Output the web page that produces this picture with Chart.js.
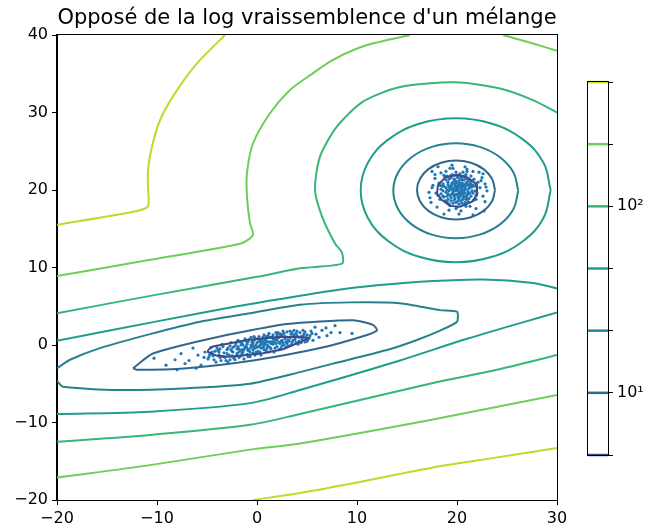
<!DOCTYPE html>
<html>
<head>
<meta charset="utf-8">
<title>Mélange gaussien</title>
<script src="https://cdn.jsdelivr.net/npm/chart.js@4.4.0/dist/chart.umd.min.js"></script>
<style>
  body { margin: 0; background: #fff; }
  #wrap { position: relative; width: 652px; height: 530px; }
  #mainChart { position: absolute; left: 0; top: 0; }
  #cbarChart { position: absolute; left: 560px; top: 0; }
</style>
</head>
<body>
<div id="wrap">
  <canvas id="mainChart" width="652" height="530"></canvas>
  <canvas id="cbarChart" width="92" height="530"></canvas>
</div>
<script>
// contour levels (logspace 10^(2/3) .. 10^(8/3)) and tick values
const levels = [4.6416, 10, 21.544, 46.416, 100, 215.44, 464.16];
const xTicks = [-20, -10, 0, 10, 20, 30];
const yTicks = [-20, -10, 0, 10, 20, 30, 40];
const cbarTicks = [10, 100];
const cbarLabels = ['10\u00b9', '10\u00b2'];

// contour paths, [x, y] in data units, grouped by level
const lvl4Ring = [[18.1,20.65],[18.8,21.6],[20.0,21.95],[21.1,21.6],[22.0,20.65],[22.0,19.35],[21.5,18.5],[20.3,17.85],[19.3,17.95],[18.5,18.7],[18.0,19.55],[18.1,20.65]];
const lvl4Band = [[-4.9,-0.65],[-4.4,-0.2],[-1.0,0.65],[2.3,1.07],[4.6,1.0],[5.1,0.86],[4.0,0.2],[2.6,-0.55],[0.6,-1.07],[-2.7,-1.5],[-4.0,-1.4],[-4.9,-0.9],[-4.9,-0.65]];

const lvl10Ring = [[23.8,20.0],[23.5,21.45],[22.66,22.69],[21.39,23.51],[19.9,23.8],[18.41,23.51],[17.14,22.69],[16.3,21.45],[16.0,20.0],[16.3,18.55],[17.14,17.31],[18.41,16.49],[19.9,16.2],[21.39,16.49],[22.66,17.31],[23.5,18.55],[23.8,20.0]];
const lvl10Band = [[-12.4,-3.0],[-10.4,-1.1],[-3.7,1.1],[3.0,2.7],[9.6,3.2],[11.6,2.6],[12.0,1.9],[11.0,1.3],[6.3,-0.4],[-0.4,-2.0],[-7.0,-3.0],[-12.0,-3.2],[-12.4,-3.0]];

const lvl21Ring = [[26.13,19.9],[25.65,22.25],[24.3,24.23],[22.27,25.56],[19.88,26.03],[17.49,25.56],[15.46,24.23],[14.11,22.25],[13.63,19.9],[14.11,17.55],[15.46,15.57],[17.49,14.24],[19.88,13.77],[22.27,14.24],[24.3,15.57],[25.65,17.55],[26.13,19.9]];
const lvl21Band = [[-20,-4.6],[-19.4,-5.4],[-14.0,-5.8],[-7.4,-5.6],[-0.7,-5.0],[4.3,-3.5],[7.6,-2.4],[13.0,-0.65],[16.0,0.65],[18.3,1.85],[20.0,3.0],[20.0,4.3],[18.3,4.5],[14.3,5.4],[9.3,5.5],[4.3,5.2],[-0.7,4.1],[-5.7,3.0],[-10.7,1.4],[-15.7,-0.4],[-18.7,-1.9],[-20,-3.0]];

const lvl46Ring = [[29.37,19.96],[28.65,23.52],[26.59,26.53],[23.51,28.54],[19.87,29.25],[16.23,28.54],[13.15,26.53],[11.09,23.52],[10.37,19.96],[11.09,16.4],[13.15,13.39],[16.23,11.38],[19.87,10.67],[23.51,11.38],[26.59,13.39],[28.65,16.4],[29.37,19.96]];
const lvl46Upper = [[-20,0.55],[-10,3.05],[-2,5.0],[4,6.3],[8,7.1],[12,7.7],[17.6,8.25],[22.6,8.45],[27.6,8.0],[30,7.3]];
const lvl46Lower = [[-20,-8.9],[-10.7,-8.6],[-0.7,-7.5],[4.3,-5.8],[14.3,-2.0],[21,0.8],[30,4.2]];

const lvl100Upper = [[-20,4.1],[-10,6.5],[0,8.8],[4.3,9.9],[8.5,10.5],[8.5,11.9],[7.8,13.1],[6.5,16.6],[5.8,20.0],[6.3,24.3],[8.0,28.2],[10.6,31.4],[14.3,33.3],[19.8,33.9],[24.3,33.1],[27.6,31.6],[30,30.0]];
const lvl100Lower = [[-20,-12.5],[-10.7,-11.6],[-0.7,-10.3],[4.3,-8.9],[17.6,-4.9],[24,-3.2],[30,-1.3]];

const lvl215Top = [[-20,8.9],[-10.7,11.0],[-1.6,13.1],[-0.4,14.2],[-0.7,15.7],[-1.0,19.1],[-1.0,22.2],[-0.4,26.0],[1.3,29.9],[3.3,32.9],[5.3,34.8],[7.6,36.8],[11.0,38.7],[15.3,40]];
const lvl215Corner = [[24.6,40],[27.6,38.9],[30,37.97]];
const lvl215Lower = [[-20,-17.1],[-10.7,-15.5],[-0.7,-13.5],[4.3,-12.7],[17.6,-9.6],[30,-6.45]];

const lvl464Top = [[-20,15.5],[-12.0,17.3],[-10.9,17.9],[-10.9,20.4],[-10.9,22.6],[-10.5,25.6],[-9.7,29.0],[-8.2,32.5],[-6.0,36.35],[-3.2,40]];
const lvl464Lower = [[-0.4,-20],[4.3,-19.1],[10,-17.75],[17.6,-15.8],[24,-14.5],[30,-13.3]];

// training samples: round cluster near (20, 20) and the stretched one near the origin
const roundSamples = [
  [20.1,20.3],[19.6,19.8],[20.5,20.9],[19.2,20.4],[20.8,19.6],[19.9,21.1],[20.3,19.2],[18.9,19.7],[21.2,20.2],[19.5,20.7],
  [20.6,20.4],[19.8,19.4],[20.2,18.9],[21.0,21.0],[19.1,21.0],[20.4,21.5],[18.7,20.5],[21.5,19.9],[20.0,20.0],[19.7,18.7],
  [20.9,18.8],[21.4,20.8],[18.6,19.2],[19.4,21.6],[20.7,21.8],[21.8,20.5],[18.4,20.1],[20.3,22.1],[19.0,18.5],[21.1,18.5],
  [22.0,19.6],[19.9,22.3],[18.2,20.9],[20.5,18.3],[21.7,21.4],[18.8,21.7],[22.3,20.3],[19.3,18.0],[20.9,22.0],[17.9,19.6],
  [20.0,17.8],[21.9,18.8],[18.3,18.8],[22.4,21.2],[19.6,22.8],[17.6,20.6],[21.3,17.9],[20.1,19.5],[19.4,20.1],[20.7,20.0],
  [20.2,20.7],[19.8,20.5],[20.4,19.8],[19.3,19.3],[21.0,19.3],[19.7,21.4],[20.8,20.6],[19.0,20.0],[20.6,19.0],[21.3,21.1],
  [22.6,19.2],[17.8,21.5],[21.6,22.4],[18.4,22.2],[22.8,20.8],[20.4,17.3],[19.2,17.4],[23.0,19.9],[17.3,19.0],[21.9,17.6],
  [18.0,17.8],[22.2,22.3],[19.5,23.2],[17.5,20.3],[20.8,23.0],[22.5,21.6],[17.5,22.4],[20.2,16.9],[21.6,16.8],[18.7,16.9],
  [22.8,18.5],[17.4,18.4],[22.7,17.3],[22.9,20.4],[17.8,22.0],[19.3,22.8],[21.0,22.7],[17.2,19.7],[22.6,22.1],[18.1,23.0],
  [19.9,19.9],[20.3,20.5],[19.6,20.2],[20.1,19.1],[19.4,19.0],[20.9,20.1],[20.5,21.3],[19.1,20.7],[21.5,20.4],[20.0,21.7],
  [19.8,20.8],[20.6,19.5],[19.5,19.5],[20.4,20.2],[19.2,19.9],[20.9,20.9],[20.0,20.5],[19.7,20.0],[20.3,19.6],[19.6,21.0],
  [21.1,19.8],[18.9,20.3],[20.2,21.2],[19.4,20.5],[20.7,19.2],[20.1,18.6],[21.4,20.4],[18.6,19.9],[19.1,19.5],[20.5,20.6],
  [18.5,20.5],[18.7,19.1],[18.9,21.3],[19.0,19.2],[19.1,18.8],[19.2,21.4],[19.3,20.2],[19.3,21.8],[19.4,18.6],[19.5,20.9],
  [19.6,18.3],[19.6,19.6],[19.7,21.9],[19.7,19.2],[19.8,18.9],[19.8,21.3],[19.9,20.3],[19.9,18.4],[20.0,19.4],[20.0,20.9],
  [20.1,21.6],[20.1,20.1],[20.2,19.8],[20.2,18.2],[20.3,20.9],[20.3,21.9],[20.4,18.6],[20.4,19.4],[20.5,20.0],[20.5,21.7],
  [20.6,18.8],[20.6,20.8],[20.7,21.3],[20.7,19.7],[20.8,18.4],[20.8,20.3],[20.9,19.1],[20.9,21.5],[21.0,20.6],[21.0,18.9],
  [21.1,19.5],[21.1,21.3],[21.2,20.7],[21.2,18.9],[21.3,19.6],[21.3,20.5],[21.4,19.2],[21.5,21.2],[21.6,19.6],[21.6,20.6],
  [21.7,18.7],[21.8,19.9],[21.9,20.9],[18.4,19.5],[18.6,20.8],[18.8,18.6],[18.3,20.6],[19.0,21.8],[19.5,22.0],[20.6,22.3],
  [21.4,21.8],[21.9,19.3],[18.7,21.9],[19.2,18.2],[20.9,17.9],[19.9,17.6],[18.1,19.3],[22.1,21.0],[21.0,22.4],[18.9,22.4]
];
const stretchedSamples = [
  [-10.3,-1.7],[-8.2,-1.9],[-8.0,-3.2],[-7.2,-2.4],[-6.4,-0.4],[-6.8,-2.0],[-5.9,-1.3],[-5.6,-2.6],[-5.2,-0.9],[-4.9,-1.8],
  [-4.6,-0.3],[-4.4,-1.4],[-4.1,-2.2],[-3.9,-0.7],[-3.7,-1.6],[-3.5,0.1],[-3.3,-1.0],[-3.1,-2.0],[-2.9,-0.4],[-2.8,-1.3],
  [-2.6,0.3],[-2.5,-0.8],[-2.3,-1.7],[-2.2,-0.1],[-2.0,-1.1],[-1.9,0.6],[-1.8,-0.5],[-1.6,-1.4],[-1.5,0.2],[-1.4,-0.9],
  [-1.2,0.8],[-1.1,-0.2],[-1.0,-1.2],[-0.9,0.4],[-0.8,-0.6],[-0.6,1.0],[-0.5,-0.1],[-0.4,-1.0],[-0.3,0.6],[-0.2,-0.4],
  [0.0,0.3],[0.1,-0.8],[0.2,1.1],[0.3,0.0],[0.4,-1.3],[0.5,0.7],[0.6,-0.3],[0.7,1.3],[0.8,0.2],[0.9,-0.7],
  [1.0,0.9],[1.1,-0.1],[1.2,1.5],[1.3,0.4],[1.4,-0.5],[1.5,1.0],[1.6,0.1],[1.7,-0.9],[1.8,0.7],[1.9,1.6],
  [2.0,-0.2],[2.1,0.9],[2.2,0.3],[2.3,1.4],[2.4,-0.4],[2.5,0.6],[2.6,1.8],[2.7,0.0],[2.8,1.1],[2.9,0.4],
  [3.0,1.7],[3.1,-0.1],[3.3,0.9],[3.4,1.4],[3.5,0.3],[3.7,1.9],[3.8,0.7],[4.0,1.2],[4.1,0.1],[4.3,1.6],
  [4.5,0.8],[4.6,1.9],[4.8,0.4],[5.0,1.3],[5.2,0.9],[5.4,1.8],[5.6,0.6],[5.9,1.4],[6.2,1.0],[6.5,1.9],
  [6.9,2.2],[7.0,1.2],[7.4,1.6],[8.3,1.6],[9.5,1.5],[-7.6,-1.1],[-9.1,-2.6],[-6.1,-3.0],[5.8,2.3],[7.8,2.5],
  [-3.0,-0.6],[-2.7,-1.9],[-2.4,-0.3],[-2.1,-1.4],[-1.7,-0.8],[-1.3,-1.8],[-1.0,0.1],[-0.7,-1.5],[-0.4,0.2],[-0.1,-0.9],
  [0.2,0.5],[0.4,-0.4],[0.6,0.4],[0.9,0.5],[1.1,1.2],[1.3,-0.3],[1.6,0.8],[1.9,0.2],[2.2,1.0],[2.5,-0.1],
  [2.8,0.8],[3.2,0.5],[3.6,1.1],[3.9,1.5],[4.2,0.5],[4.4,1.1],[4.7,1.4],[5.1,0.7],[-0.2,0.9],[0.0,-0.3],
  [-0.6,0.0],[-1.5,-0.6],[-2.0,-0.5],[-3.4,-1.5],[-3.8,-0.9],[-4.2,-0.8],[-4.7,-1.2],[-5.3,-1.6],[1.5,0.4],[0.7,-0.1],
  [-0.9,-0.7],[-1.9,-1.0],[2.0,1.3],[3.0,0.2],[3.5,1.6],[0.3,0.6],[1.0,0.0],[-0.3,-0.2],[-1.2,-0.3],[2.4,0.5],
  [-4.8,-1.5],[-4.5,-0.9],[-4.3,-1.9],[-4.0,-0.4],[-3.8,-1.3],[-3.6,-2.0],[-3.4,-0.2],[-3.2,-1.6],[-3.0,-1.1],[-2.9,-2.2],
  [-2.7,-0.1],[-2.5,-1.4],[-2.4,-0.9],[-2.2,-1.9],[-2.1,0.2],[-1.9,-0.2],[-1.8,-1.6],[-1.7,0.4],[-1.5,-1.1],[-1.4,0.0],
  [-1.3,-0.6],[-1.1,0.5],[-1.0,-0.4],[-0.9,-1.5],[-0.8,0.7],[-0.7,-0.9],[-0.5,0.4],[-0.4,-0.6],[-0.3,1.1],[-0.1,0.0],
  [0.0,-1.1],[0.1,0.8],[0.2,-0.2],[0.3,-0.9],[0.5,0.1],[0.6,1.0],[0.7,-0.6],[0.8,0.7],[1.0,-0.4],[1.1,0.4],
  [1.2,-0.9],[1.3,1.0],[1.4,0.2],[1.6,1.3],[1.7,0.4],[1.8,-0.4],[2.0,0.6],[2.1,1.6],[2.2,-0.6],[2.3,0.2],
  [2.5,1.2],[2.6,0.3],[2.7,1.5],[2.9,-0.3],[3.0,1.0],[3.1,0.6],[3.3,1.8],[3.4,0.0],[3.6,0.6],[3.7,1.3],
  [3.9,0.3],[4.0,1.8],[4.2,1.0],[4.4,0.3],[4.6,1.2],[4.8,1.7],[5.0,0.5],[5.3,1.2],[5.5,1.5],[0.4,0.3],
  [-0.6,-0.3],[1.9,0.9],[-2.6,-0.6],[3.8,1.0],[-3.7,-0.5],[2.4,1.4],[-1.6,0.0],[0.9,1.1],[-0.2,-1.3],[4.9,1.0]
];

// viridis colours for the levels above (LogNorm 1..1000)
const levelColors = ['#3e4989', '#31688e', '#26828e', '#1f9e89', '#35b779', '#6ece58', '#b5de2b'];

// path, level index, smoothing
const contourPaths = [
  [lvl4Ring, 0, 0], [lvl4Band, 0, 0],
  [lvl10Ring, 1, 0.4], [lvl10Band, 1, 0.2],
  [lvl21Ring, 2, 0.4], [lvl21Band, 2, 0.2],
  [lvl46Ring, 3, 0.4], [lvl46Upper, 3, 0.3], [lvl46Lower, 3, 0.3],
  [lvl100Upper, 4, 0.25], [lvl100Lower, 4, 0.3],
  [lvl215Top, 5, 0.25], [lvl215Corner, 5, 0.3], [lvl215Lower, 5, 0.3],
  [lvl464Top, 6, 0.25], [lvl464Lower, 6, 0.3]
];

const FONT = 'DejaVu Sans';
const TICK_SIZE = 16;
const toXY = pts => pts.map(p => ({ x: p[0], y: p[1] }));
const minus = v => (v < 0 ? '\u2212' + Math.abs(v) : String(v));

// matplotlib draws all four spines; chart.js only left/bottom
const boxFrame = {
  id: 'boxFrame',
  afterDraw(chart) {
    const a = chart.chartArea, ctx = chart.ctx;
    ctx.save();
    ctx.strokeStyle = '#000';
    ctx.lineWidth = 1;
    ctx.strokeRect(Math.round(a.left) - 0.5, Math.round(a.top) - 0.5,
                   Math.round(a.right - a.left) + 1, Math.round(a.bottom - a.top) + 1);
    ctx.restore();
  }
};

const contourSets = contourPaths.map(([pts, k, t]) => ({
  data: toXY(pts),
  showLine: true,
  borderColor: levelColors[k],
  borderWidth: 2,
  pointRadius: 0,
  tension: t,
  order: 1
}));

const sampleSets = [roundSamples, stretchedSamples].map(pts => ({
  data: toXY(pts),
  showLine: false,
  pointRadius: 1.6,
  pointBorderWidth: 0,
  backgroundColor: '#1f77b4',
  order: 2
}));

const axisTicks = { color: '#000', font: { family: FONT, size: TICK_SIZE }, padding: 4, callback: minus };

new Chart(document.getElementById('mainChart'), {
  type: 'scatter',
  data: { datasets: contourSets.concat(sampleSets) },
  options: {
    responsive: false,
    animation: false,
    devicePixelRatio: 1,
    layout: { padding: { left: 0, right: 95, top: 0, bottom: 0 } },
    plugins: {
      legend: { display: false },
      tooltip: { enabled: false },
      title: {
        display: true,
        fullSize: false,
        text: "Opposé de la log vraissemblence d'un mélange",
        color: '#000',
        font: { family: FONT, size: 21, weight: 'normal', lineHeight: 1.2 },
        padding: { top: 6, bottom: 3.8 }
      }
    },
    scales: {
      x: {
        type: 'linear', min: -20, max: 30,
        afterBuildTicks: s => { s.ticks = xTicks.map(v => ({ value: v })); },
        afterFit: s => { s.height = 30; },
        grid: { drawOnChartArea: false, tickLength: 5, tickColor: '#000' },
        border: { color: '#000', width: 1 },
        ticks: axisTicks
      },
      y: {
        type: 'linear', min: -20, max: 40,
        afterBuildTicks: s => { s.ticks = yTicks.map(v => ({ value: v })); },
        afterFit: s => { s.width = 57; },
        grid: { drawOnChartArea: false, tickLength: 5, tickColor: '#000' },
        border: { color: '#000', width: 1 },
        ticks: axisTicks
      }
    }
  },
  plugins: [boxFrame]
});

// colour bar: one horizontal line per level on a log axis
new Chart(document.getElementById('cbarChart'), {
  type: 'scatter',
  data: {
    datasets: levels.map((lv, i) => ({
      data: [{ x: 0, y: lv }, { x: 1, y: lv }],
      showLine: true,
      borderColor: levelColors[i],
      borderWidth: 2.5,
      pointRadius: 0,
      clip: false
    }))
  },
  options: {
    responsive: false,
    animation: false,
    devicePixelRatio: 1,
    layout: { padding: { left: 28, right: 0, top: 82, bottom: 75 } },
    plugins: { legend: { display: false }, tooltip: { enabled: false } },
    scales: {
      x: { display: false, min: 0, max: 1 },
      y: {
        type: 'logarithmic', position: 'right',
        min: levels[0], max: levels[levels.length - 1],
        afterBuildTicks: s => { s.ticks = levels.map(v => ({ value: v })); },
        afterFit: s => { s.width = 44; },
        grid: { drawOnChartArea: false, tickLength: 5, tickColor: '#000' },
        border: { display: false },
        ticks: {
          autoSkip: false,
          color: '#000',
          padding: 4,
          font: { family: FONT, size: TICK_SIZE },
          callback: v => {
            const i = cbarTicks.indexOf(v);
            return i >= 0 ? cbarLabels[i] : '';
          }
        }
      }
    }
  },
  plugins: [boxFrame]
});
</script>
</body>
</html>
